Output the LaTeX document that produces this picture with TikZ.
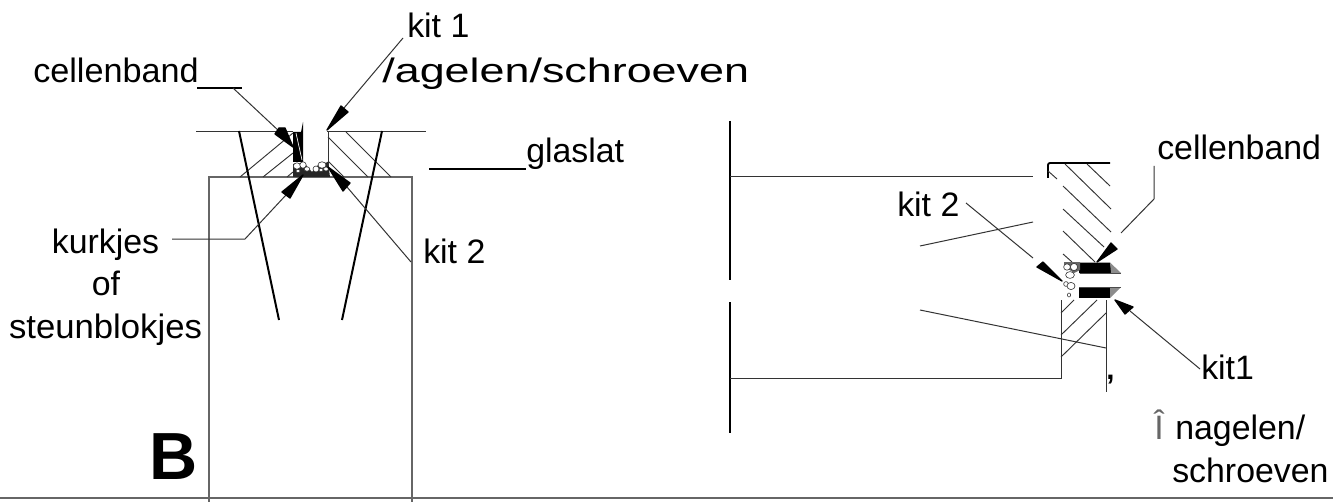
\documentclass[tikz,border=0pt]{standalone}
\usepackage{fontspec}
\setmainfont{Liberation Sans}
\tikzset{
  lbl/.style={inner sep=0pt,anchor=base west,text=black,font=\fontsize{25.4}{30}\selectfont},
  thin line/.style={draw=black!80,line width=0.75pt},
  box line/.style={draw=black!60,line width=1pt},
  thick line/.style={draw=black,line width=1.4pt},
  taper/.style={draw=black,line width=1.5pt},
  hatch/.style={draw=black!80,line width=0.7pt},
  head/.style={fill=black,draw=black,line width=1pt,line join=round},
  blob/.style={fill=white,draw=black!80,line width=0.45pt},
}
\begin{document}
\begin{tikzpicture}[x=0.75pt,y=-0.75pt]
\useasboundingbox (0,0) rectangle (1333,502);
\fill[white] (0,0) rectangle (1333,502);
% ---------- labels
\node[lbl,xscale=1.01] (cb1) at (33,83) {cellenband};
\node[lbl] (kit1a) at (407,38) {kit 1};
\node[lbl,xscale=1.325,anchor=base west] (nag1) at (382,83) {/agelen/schroeven};
\node[lbl] (glas) at (526,163) {glaslat};
\node[lbl] (kit2a) at (423,263) {kit 2};
\node[lbl,anchor=base] (kurk) at (105.5,253) {kurkjes};
\node[lbl,anchor=base] (of) at (106,295) {of};
\node[lbl,anchor=base,xscale=1.025] (steun) at (105.5,338) {steunblokjes};
\node[lbl,font=\fontsize{50}{52}\selectfont\bfseries] (B) at (149,479) {B};
\node[lbl] (cb2) at (1157,160) {cellenband};
\node[lbl] (kit2b) at (897,217) {kit 2};
\node[lbl] (kit1b) at (1201,379) {kit1};
\node[lbl,text=black!60] (hat) at (1154,439) {Î};
\node[lbl] (nag2) at (1175,439) {nagelen/};
\node[lbl] (sch) at (1172,482) {schroeven};
% ---------- left detail
\draw[box line] (209,502) -- (209,177) -- (412,177) -- (412,502);
\draw[thin line] (196,131.5) -- (293,131.5) (327,131.5) -- (426,131.5);
\draw[thin line] (328,131.5) -- (328,167);
\draw[hatch] (293,133) -- (240,177) (293,153) -- (263,177) (293,172) -- (287,177);
\draw[hatch] (328,137) -- (368,177) (346,132) -- (391,177) (328,161) -- (344,177);
\draw[taper] (239,131) -- (279,320) (382,131) -- (342,320);
% seal and kit
\fill[black] (293,132) -- (301,132) -- (303,122) -- (303,162) -- (293,162) -- cycle;
\draw[white,line width=0.5pt] (296,133) -- (302,160);
\fill[black!85] (293,164) -- (305,164) -- (312,172) -- (318,165) -- (328,162) -- (330,177) -- (293,177) -- cycle;
\draw[blob] (297,166) ellipse (3.6 and 3.2);
\draw[blob] (303,165) ellipse (3.2 and 3.2);
\draw[blob] (307,169) ellipse (2.8 and 2.2);
\draw[blob] (298,171) ellipse (2 and 1.6);
\draw[blob] (316,169) ellipse (3 and 3);
\draw[blob] (322,165) ellipse (4 and 3.2);
\draw[blob] (326,169) ellipse (2.4 and 2);
\draw[blob] (321,170) ellipse (2 and 1.6);
% left connectors
\coordinate (c1a) at (197,88); \coordinate (c1b) at (242,88); \coordinate (c1j) at (233,88); \coordinate (c1c) at (280,132);
\coordinate (k1a) at (403,38); \coordinate (k1c) at (344,108);
\coordinate (k2c) at (411,262); \coordinate (k2d) at (347,187);
\coordinate (ku1) at (172,239); \coordinate (ku2) at (245,239); \coordinate (ku3) at (286,195);
\coordinate (gl1) at (429,169); \coordinate (gl2) at (526,169);
\draw[line width=1.3pt] (c1a) -- (c1b);
\draw[thin line] (c1j) -- (c1c);
\draw[thin line] (k1a) -- (k1c);
\draw[thin line] (k2c) -- (k2d);
\draw[thin line] (ku1) -- (ku2) -- (ku3);
\draw[line width=1.3pt] (gl1) -- (gl2);
\fill[head] (293,147) -- (275,134) -- (279,128) -- (285,128) -- cycle;
\fill[head] (327,130) -- (341,106) -- (348,112) -- cycle;
\fill[head] (328,167) -- (350,183) -- (343,191) -- cycle;
\fill[head] (303,175) -- (282,192) -- (290,198) -- cycle;
% ---------- right detail
\draw[thick line] (730,121) -- (730,280) (730,302) -- (730,433);
\draw[thin line] (730,177) -- (1033,177);
\draw[thin line] (730,378) -- (1061,378) -- (1061,300);
\draw[thin line] (1106,300) -- (1106,392);
\draw[thick line,rounded corners=1.5pt] (1048,178) -- (1048,163) -- (1110,163);
\draw[hatch] (1048,171) -- (1057,179) (1065,164) -- (1111,209) (1087,164) -- (1110,186)
  (1063,186) -- (1111,232) (1063,209) -- (1104,247) (1063,231) -- (1095,262) (1063,254) -- (1072,262);
\draw[hatch] (1061,313) -- (1074,300) (1061,335) -- (1097,300) (1061,357) -- (1106,313);
\draw[thin line] (920,246) -- (1033,222);
\draw[thin line] (920,310) -- (1106,348);
% right seal
\fill[black] (1079,262.5) -- (1110,262.5) -- (1112,273) -- (1079,273) -- cycle;
\fill[black!45] (1110,262.5) -- (1121,273) -- (1111,273) -- cycle;
\fill[black] (1079,288) -- (1110,288) -- (1110,298) -- (1079,298) -- cycle;
\fill[black!45] (1110,288) -- (1121,287) -- (1110,298) -- cycle;
\draw[black!70,line width=0.6pt] (1080,273) -- (1121,273) (1079,287) -- (1121,287);
\fill[black!60] (1064,262) -- (1080,262) -- (1080,270) -- (1074,273) -- (1064,266) -- cycle;
\draw[blob] (1067,267) ellipse (3.4 and 3.2);
\draw[blob] (1074,267) ellipse (3.6 and 3.6);
\draw[blob] (1070,275) ellipse (4.4 and 3.4);
\draw[blob] (1066,284) ellipse (2.4 and 2.4);
\draw[blob] (1071,286) ellipse (4 and 3.6);
\draw[blob] (1069,295) ellipse (1.6 and 2);
% right connectors
\coordinate (cr1) at (1154,166); \coordinate (cr2) at (1154,199); \coordinate (cr3) at (1121,233);
\coordinate (kr1) at (966,203); \coordinate (kr2) at (1033,258);
\coordinate (kt1) at (1200,369); \coordinate (kt2) at (1130,311);
\draw[thin line] (cr1) -- (cr2) -- (cr3);
\draw[thin line] (kr1) -- (kr2);
\draw[thin line] (kt1) -- (kt2);
\fill[head] (1097,262) -- (1111,243) -- (1117,249) -- cycle;
\fill[head] (1062,281) -- (1037,267) -- (1043,262) -- cycle;
\fill[head] (1115,300) -- (1125,314) -- (1133,307) -- cycle;
\node[lbl,font=\fontsize{22}{24}\selectfont\bfseries] (comma) at (1106,379) {,};
% ---------- base line
\coordinate (bl) at (0,498); \coordinate (br) at (1333,498);
\draw[draw=black!60,line width=2pt] (bl) -- (br);
\end{tikzpicture}
\end{document}
